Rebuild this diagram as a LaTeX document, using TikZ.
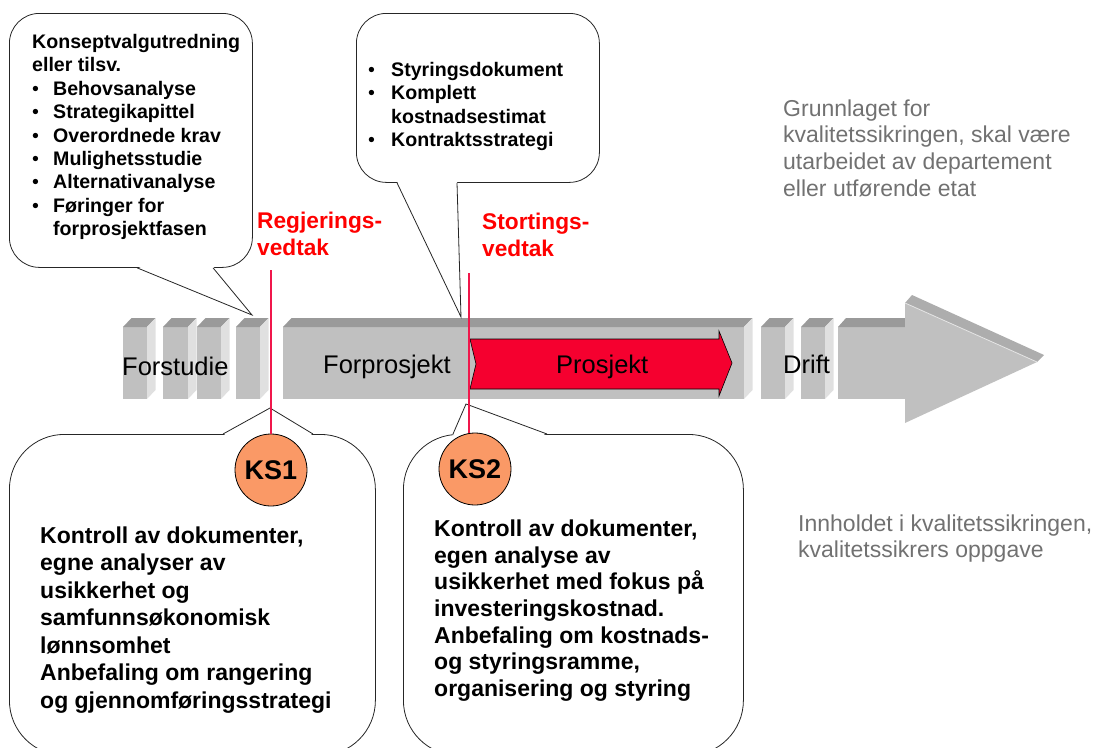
\documentclass[tikz,border=0pt]{standalone}
\usepackage{fontspec}
\setmainfont{Liberation Sans}
\usepackage{tikz}
\usetikzlibrary{calc,positioning}
\definecolor{kfront}{HTML}{C0C0C0}
\definecolor{ktopc}{HTML}{9A9A9A}
\definecolor{ksidec}{HTML}{E0E0E0}
\definecolor{kheadtop}{HTML}{ADADAD}
\definecolor{kred}{HTML}{FF0000}
\definecolor{kline}{HTML}{F0174B}
\definecolor{kproj}{HTML}{F5002F}
\definecolor{korange}{HTML}{FA9966}
\definecolor{kgrey}{HTML}{717171}
\newcommand{\kbullet}[1]{\makebox[#1][l]{\mdseries\textbullet}}
\tikzset{
  kcall/.style={draw=black!85, fill=white, line width=0.8pt,
                rounded corners=30pt, inner sep=0pt},
  kbigcall/.style={kcall, rounded corners=55pt},
  kptr/.style={draw=black!85, line width=0.8pt},
  ktxt/.style={anchor=north west, inner sep=0pt, align=left,
               font=\bfseries\fontsize{19.6pt}{23.4pt}\selectfont},
  kbtxt/.style={anchor=north west, inner sep=0pt, align=left,
                font=\bfseries\fontsize{23pt}{27.5pt}\selectfont},
  kvtxt/.style={anchor=north west, inner sep=0pt, align=left, text=kred,
                font=\bfseries\fontsize{22.7pt}{27pt}\selectfont},
  kgtxt/.style={anchor=north west, inner sep=0pt, align=left, text=kgrey,
                font=\fontsize{23pt}{26.7pt}\selectfont},
  kbar/.style={anchor=base west, inner sep=0pt,
               font=\fontsize{25.5pt}{26pt}\selectfont},
  kvline/.style={draw=kline, line width=2.5pt},
  kks/.style={circle, draw=black, fill=korange, line width=0.8pt,
              minimum size=72pt, inner sep=0pt,
              font=\bfseries\fontsize{27pt}{27pt}\selectfont},
}

\begin{document}
\begin{tikzpicture}[x=1pt,y=-1pt]
  \clip (0,0) rectangle (1095,747);

  % faseblokker
  \foreach \xa/\xb in {123/147,163/188,197/221,236/260,283/744,761/785,801/825}{
    \fill[kfront] (\xa,327) rectangle (\xb,399);
    \fill[ktopc] (\xa,327) -- (\xa+8.5,318) -- (\xb+8.5,318) -- (\xb,327) -- cycle;
    \fill[ksidec] (\xb,327) -- (\xb+8.5,318) -- (\xb+8.5,390) -- (\xb,399) -- cycle;
  }

  % stor pil (drift)
  \fill[kfront] (838,327) rectangle (906,399);
  \fill[ktopc] (838,327) -- (846,318) -- (906,318) -- (906,327) -- cycle;
  \fill[kfront] (905,303) -- (1037,362) -- (905,423) -- cycle;
  \fill[kheadtop] (905,303) -- (912,295) -- (1044,355) -- (1037,362) -- cycle;
  \draw[white!80!gray, line width=0.8pt] (905,303) -- (1037,362);

  % prosjektpil
  \draw[fill=kproj, draw=black, line width=0.6pt]
    (470,339) -- (719,339) -- (719,331) -- (732,363) -- (719,396)
    -- (719,389) -- (470,389) -- (476,364) -- cycle;

  \node[kbar] (forstudie) at (122,375) {Forstudie};
  \node[kbar] (forprosjekt) at (323,373) {Forprosjekt};
  \node[kbar] (prosjekt) at (556,373) {Prosjekt};
  \node[kbar] (drift) at (783,373) {Drift};

  % snakkebobler oppe
  \node[kcall, minimum width=243pt, minimum height=254pt, anchor=north west]
       (kvu) at (9,13) {};
  \coordinate (kvutip) at (252,315);
  \fill[white] ($(kvu.south west)+(128,-1.5)$) -- (kvutip)
       -- ($(kvu.south west)+(204,-1.5)$) -- cycle;
  \draw[kptr] ($(kvu.south west)+(128,0)$) -- (kvutip)
       -- ($(kvu.south west)+(204,0)$);
  \node[ktxt] (kvutxt) at (32,34)
       {Konseptvalgutredning\\eller tilsv.\\
        \kbullet{21pt}Behovsanalyse\\\kbullet{21pt}Strategikapittel\\
        \kbullet{21pt}Overordnede krav\\\kbullet{21pt}Mulighetsstudie\\
        \kbullet{21pt}Alternativanalyse\\\kbullet{21pt}Føringer for\\
        \hspace*{21pt}forprosjektfasen};

  \node[kcall, minimum width=243pt, minimum height=169pt, anchor=north west]
       (sd) at (356,13) {};
  \coordinate (sdtip) at (461,317);
  \fill[white] ($(sd.south west)+(41,-1.5)$) -- (sdtip)
       -- ($(sd.south west)+(101,-1.5)$) -- cycle;
  \draw[kptr] ($(sd.south west)+(41,0)$) -- (sdtip)
       -- ($(sd.south west)+(101,0)$);
  \node[ktxt] (sdtxt) at (368,62)
       {\kbullet{23pt}Styringsdokument\\\kbullet{23pt}Komplett\\
        \hspace*{23pt}kostnadsestimat\\\kbullet{23pt}Kontraktsstrategi};

  % snakkebobler nede
  \node[kbigcall, minimum width=366pt, minimum height=321pt, anchor=north west]
       (ksa) at (9,434) {};
  \coordinate (ksatip) at (270,408);
  \fill[white] ($(ksa.north west)+(214,1.5)$) -- (ksatip)
       -- ($(ksa.north west)+(304,1.5)$) -- cycle;
  \draw[kptr] ($(ksa.north west)+(214,0)$) -- (ksatip)
       -- ($(ksa.north west)+(304,0)$);
  \node[kbtxt] (ksatxt) at (40,526.5)
       {Kontroll av dokumenter,\\egne analyser av\\usikkerhet og\\
        samfunnsøkonomisk\\lønnsomhet\\Anbefaling om rangering\\
        og gjennomføringsstrategi};

  \node[kbigcall, minimum width=340pt, minimum height=321pt, anchor=north west]
       (ksb) at (403,434) {};
  \coordinate (ksbtip) at (466,404);
  \fill[white] ($(ksb.north west)+(50,1.5)$) -- (ksbtip)
       -- ($(ksb.north west)+(144,1.5)$) -- cycle;
  \draw[kptr] ($(ksb.north west)+(50,0)$) -- (ksbtip)
       -- ($(ksb.north west)+(144,0)$);
  \node[kbtxt, font=\bfseries\fontsize{23pt}{26.7pt}\selectfont] (ksbtxt) at (434,519.5)
       {Kontroll av dokumenter,\\egen analyse av\\usikkerhet med fokus på\\
        investeringskostnad.\\Anbefaling om kostnads-\\og styringsramme,\\
        organisering og styring};

  % vedtak
  \node[kvtxt] (regj) at (257,211.7) {Regjerings-\\vedtak};
  \node[kvtxt] (stort) at (482,212.7) {Stortings-\\vedtak};
  \coordinate (regjtop) at (271,270);
  \coordinate (stortop) at (469,273);

  \node[kks] (ks1) at (271,470) {KS1};
  \node[kks] (ks2) at (475,469) {KS2};
  \draw[kvline] (regjtop) -- (ks1);
  \draw[kvline] (stortop) -- (stortop |- ks2.north);

  % forklaringer
  \node[kgtxt] (grunnlag) at (783,99.4)
       {Grunnlaget for\\kvalitetssikringen, skal være\\
        utarbeidet av departement\\eller utførende etat};
  \node[kgtxt, font=\fontsize{23pt}{26pt}\selectfont] (innhold) at (798,514.4)
       {Innholdet i kvalitetssikringen,\\kvalitetssikrers oppgave};
\end{tikzpicture}
\end{document}
